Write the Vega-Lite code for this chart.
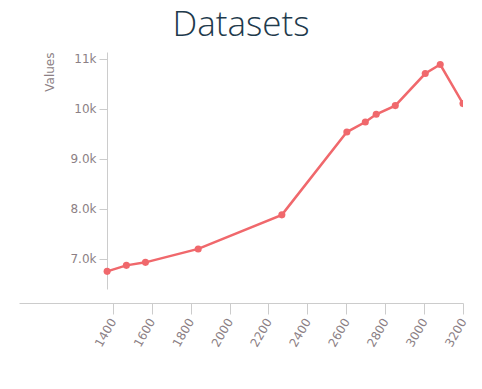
{
  "$schema": "https://vega.github.io/schema/vega-lite/v6.json",
  "width": 444,
  "height": 237,
  "autosize": {"type": "none"},
  "padding": {"left": 19, "top": 52, "right": 19, "bottom": 100},
  "background": "#ffffff",
  "title": {
    "text": "Datasets",
    "font": "Open Sans",
    "fontWeight": 300,
    "fontSize": 35,
    "color": "#1e3a4c",
    "anchor": "middle",
    "baseline": "alphabetic",
    "offset": -19
  },
  "config": {
    "view": {"stroke": null},
    "axis": {
      "labelFont": "DejaVu Sans",
      "titleFont": "DejaVu Sans",
      "labelColor": "#8c7f85",
      "titleColor": "#8c7f85",
      "domainColor": "#cccccc",
      "tickColor": "#cccccc",
      "grid": false,
      "labelFontSize": 12,
      "titleFontSize": 12,
      "titleFontWeight": "normal"
    }
  },
  "data": {
    "values": [
      {"x": 1371, "y": 6752},
      {"x": 1470, "y": 6872},
      {"x": 1568, "y": 6932},
      {"x": 1839, "y": 7200},
      {"x": 2269, "y": 7880},
      {"x": 2603, "y": 9532},
      {"x": 2698, "y": 9732},
      {"x": 2754, "y": 9886},
      {"x": 2852, "y": 10060},
      {"x": 3006, "y": 10700},
      {"x": 3083, "y": 10880},
      {"x": 3200, "y": 10100}
    ]
  },
  "encoding": {
    "x": {
      "field": "x",
      "type": "quantitative",
      "scale": {"domain": [918, 3200], "nice": false, "zero": false},
      "axis": {
        "title": null,
        "values": [1400, 1600, 1800, 2000, 2200, 2400, 2600, 2800, 3000, 3200],
        "labelAngle": -60,
        "offset": 14,
        "tickSize": 11,
        "labelPadding": 5,
        "format": "d"
      }
    },
    "y": {
      "field": "y",
      "type": "quantitative",
      "scale": {"domain": [6400, 11130], "nice": false, "zero": false},
      "axis": {
        "title": "Values",
        "titleAnchor": "end",
        "titleAlign": "right",
        "titleBaseline": "middle",
        "titlePadding": 20,
        "values": [7000, 8000, 9000, 10000, 11000],
        "format": ".2s",
        "offset": -88,
        "tickSize": 8,
        "labelPadding": 3
      }
    }
  },
  "layer": [
    {"mark": {"type": "line", "color": "#f0686c", "strokeWidth": 2.5, "clip": true}},
    {"mark": {"type": "point", "filled": true, "color": "#f0686c", "opacity": 1, "size": 50, "clip": true}}
  ]
}
